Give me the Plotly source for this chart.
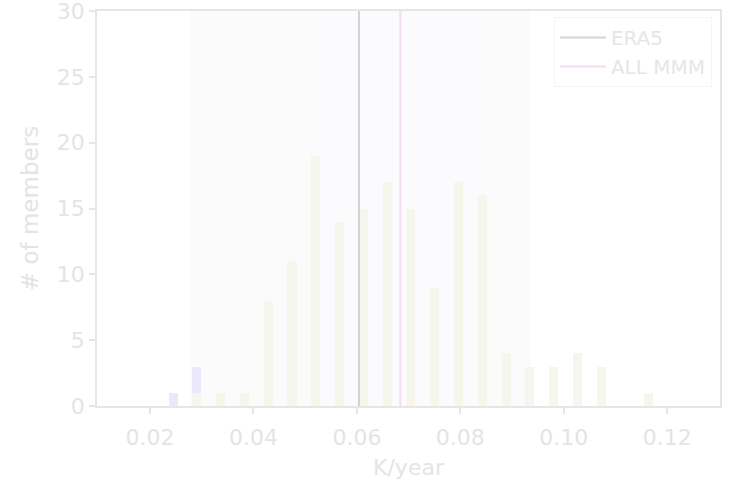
import plotly.graph_objects as go

# Histogram of per-member warming trends (K/year)
bin_centers = [0.02445, 0.02905, 0.03365, 0.03825, 0.04285, 0.04745, 0.05205,
               0.05665, 0.06125, 0.06585, 0.07045, 0.07505, 0.07965, 0.08425,
               0.08885, 0.09345, 0.09805, 0.10265, 0.10725, 0.11185, 0.11645]
counts_main = [0, 1, 1, 1, 8, 11, 19, 14, 15, 17, 15, 9, 17, 16, 4, 3, 3, 4, 3, 0, 1]
counts_extra = [1, 2, 0, 0, 0, 0, 0, 0, 0, 0, 0, 0, 0, 0, 0, 0, 0, 0, 0, 0, 0]

# Reference trends
era5_trend = 0.0604
mmm_trend = 0.0684

# Shaded ranges
outer_range = [0.0277, 0.0935]
inner_range = [0.0512, 0.0857]

text_color = "#e4e4e4"
font_family = "DejaVu Sans"

fig = go.Figure()

fig.add_trace(go.Bar(
    x=bin_centers, y=counts_main, width=0.00175,
    marker=dict(color="#f6f6ed", line=dict(width=0)),
    showlegend=False, hoverinfo="skip",
))
fig.add_trace(go.Bar(
    x=bin_centers, y=counts_extra, width=0.00175,
    marker=dict(color="#e9e9fb", line=dict(width=0)),
    showlegend=False, hoverinfo="skip",
))

fig.add_trace(go.Scatter(
    x=[era5_trend, era5_trend], y=[0, 30], mode="lines",
    line=dict(color="#d3d3d3", width=2), name="ERA5",
))
fig.add_trace(go.Scatter(
    x=[mmm_trend, mmm_trend], y=[0, 30], mode="lines",
    line=dict(color="#f6dbf1", width=2), name="ALL MMM",
))

fig.add_shape(type="rect", xref="x", yref="paper",
              x0=outer_range[0], x1=outer_range[1], y0=0, y1=1,
              fillcolor="#fbfbfb", line=dict(width=0), layer="below")
fig.add_shape(type="rect", xref="x", yref="paper",
              x0=inner_range[0], x1=inner_range[1], y0=0, y1=1,
              fillcolor="#fbfafd", line=dict(width=0), layer="below")

axis_common = dict(
    showgrid=False, zeroline=False, automargin=False,
    showline=True, linecolor="#e6e6e6", linewidth=1.5, mirror=True,
    ticks="outside", ticklen=6, tickcolor="#e6e6e6", tickwidth=1.5,
    tickfont=dict(family=font_family, size=22, color=text_color),
    ticklabeloverflow="allow",
)

fig.update_layout(
    width=732, height=484,
    margin=dict(l=97, r=12, t=11, b=78),
    paper_bgcolor="white", plot_bgcolor="white",
    barmode="stack",
    font=dict(family=font_family, color=text_color),
    xaxis=dict(
        range=[0.00975, 0.1302],
        tickvals=[0.02, 0.04, 0.06, 0.08, 0.10, 0.12],
        ticktext=["0.02", "0.04", "0.06", "0.08", "0.10", "0.12"],
        ticklabelstandoff=5,
        title=dict(text="K/year", font=dict(family=font_family, size=22, color=text_color), standoff=10),
        **axis_common,
    ),
    yaxis=dict(
        range=[0, 30],
        tickvals=[0, 5, 10, 15, 20, 25, 30],
        title=dict(text="# of members", font=dict(family=font_family, size=23, color=text_color), standoff=12),
        **axis_common,
    ),
    legend=dict(
        x=0.987, y=0.985, xanchor="right", yanchor="top",
        traceorder="normal", itemwidth=46,
        bgcolor="rgba(255,255,255,0.8)", bordercolor="#f5f5f5", borderwidth=1,
        font=dict(family=font_family, size=20, color="#e6e6e6"),
    ),
)

fig.write_html("out.html")
